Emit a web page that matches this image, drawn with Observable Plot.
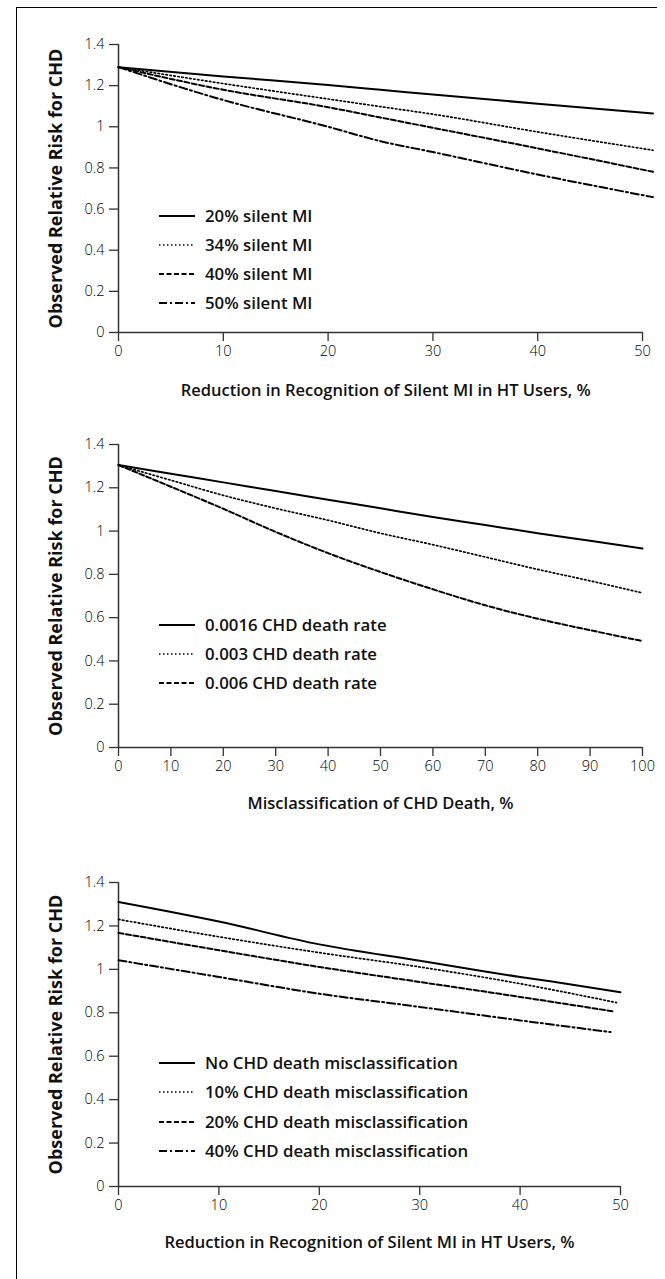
<!DOCTYPE html>
<html><head><meta charset="utf-8">
<script src="https://cdn.jsdelivr.net/npm/d3@7"></script>
<script src="https://cdn.jsdelivr.net/npm/@observablehq/plot@0.6"></script>
<style>
body{margin:0;background:#fff;}
#root{position:relative;width:665px;height:1279px;overflow:hidden;background:#fff;}
#frame{position:absolute;left:16px;top:7px;width:640px;height:1300px;border-left:1.5px solid #000;border-top:1.5px solid #000;}
.panel{position:absolute;left:0;}
</style></head><body><div id="root"><div id="frame"></div></div>
<script>
// ---- shared ticks ----
const yTicks = [0, 0.2, 0.4, 0.6, 0.8, 1, 1.2, 1.4];
const yTitle = "Observed Relative Risk for CHD";

// ---- Panel 1 ----
const p1Title = "Reduction in Recognition of Silent MI in HT Users, %";
const p1Ticks = [0, 10, 20, 30, 40, 50];
const p1X = [0, 10, 20, 25, 30, 40, 51];
const p1Names = ["20% silent MI", "34% silent MI", "40% silent MI", "50% silent MI"];
const p1S20 = [1.29, 1.245, 1.203, 1.18, 1.157, 1.112, 1.065];
const p1S34 = [1.29, 1.21, 1.135, 1.098, 1.061, 0.975, 0.886];
const p1S40 = [1.29, 1.18, 1.095, 1.045, 0.995, 0.895, 0.781];
const p1S50 = [1.29, 1.13, 1.0, 0.93, 0.877, 0.768, 0.658];

// ---- Panel 2 ----
const p2Title = "Misclassification of CHD Death, %";
const p2Ticks = [0, 10, 20, 30, 40, 50, 60, 70, 80, 90, 100];
const p2X = [0, 10, 20, 30, 40, 50, 60, 70, 80, 90, 100];
const p2Names = ["0.0016 CHD death rate", "0.003 CHD death rate", "0.006 CHD death rate"];
const p2R0016 = [1.305, 1.265, 1.225, 1.185, 1.145, 1.105, 1.065, 1.028, 0.99, 0.955, 0.92];
const p2R003 = [1.305, 1.235, 1.165, 1.105, 1.05, 0.99, 0.937, 0.88, 0.823, 0.77, 0.714];
const p2R006 = [1.305, 1.205, 1.103, 0.996, 0.898, 0.811, 0.731, 0.657, 0.595, 0.542, 0.492];

// ---- Panel 3 ----
const p3Title = "Reduction in Recognition of Silent MI in HT Users, %";
const p3Ticks = [0, 10, 20, 30, 40, 50];
const p3Names = ["No CHD death misclassification", "10% CHD death misclassification", "20% CHD death misclassification", "40% CHD death misclassification"];
const p3XNo = [0, 10, 20, 30, 40, 43, 50];
const p3No = [1.31, 1.22, 1.115, 1.04, 0.965, 0.945, 0.895];
const p3X10 = [0, 10, 20, 30, 40, 49.6];
const p3M10 = [1.23, 1.15, 1.077, 1.011, 0.934, 0.847];
const p3X20 = [0, 10, 20, 30, 40, 49.2];
const p3M20 = [1.168, 1.088, 1.011, 0.942, 0.873, 0.807];
const p3X40 = [0, 10, 20, 30, 40, 49];
const p3M40 = [1.042, 0.965, 0.888, 0.827, 0.765, 0.711];

// line styles (order: solid, dotted, dashed, dash-dot)
const dashes = [null, "1.5,2.5", "5,2.5", "8,3,2,3"];
const widths = [2, 1.7, 2, 2];

const FONT = "'Open Sans', 'Noto Sans', sans-serif";

function makePanel(cfg) {
  const series = cfg.names.map((name, i) => ({
    name, dash: dashes[cfg.styles[i]], width: widths[cfg.styles[i]],
    rows: cfg.xs[i].map((x, j) => ({x, y: cfg.ys[i][j]}))
  }));
  const marks = [
    Plot.ruleX([0], {y1: 0, y2: 1.4, stroke: "#333", strokeWidth: 1.5}),
    Plot.ruleY([0], {x1: 0, x2: cfg.axisMax, stroke: "#333", strokeWidth: 1.5}),
    Plot.axisY({ticks: yTicks, tickFormat: d => String(d), tickSize: 9, tickPadding: 5, label: null, stroke: "#333", strokeWidth: 1.3, fontSize: 14.5, fontWeight: 300, fill: "#000"}),
    Plot.axisX({ticks: cfg.ticks, tickFormat: d => String(d), tickSize: 9, tickPadding: 4, label: null, stroke: "#333", strokeWidth: 1.3, fontSize: 14.5, fontWeight: 300, fill: "#000"}),
    ...series.map(s => Plot.line(s.rows, {x: "x", y: "y", stroke: "#000", strokeWidth: s.width, strokeDasharray: s.dash, curve: "monotone-x"})),
    Plot.text([yTitle], {text: d => d, frameAnchor: "left", textAnchor: "middle", lineAnchor: "middle", dx: -62, rotate: -90, fontSize: 18, fontWeight: 700, fill: "#111"}),
    Plot.text([cfg.title], {text: d => d, frameAnchor: "bottom", textAnchor: "middle", lineAnchor: "middle", dy: cfg.titleDy, fontSize: 16.5, fontWeight: 600, fill: "#111"})
  ];
  const chart = Plot.plot({
    width: 665, height: cfg.height,
    marginLeft: 118, marginRight: cfg.marginRight, marginTop: cfg.marginTop, marginBottom: cfg.marginBottom,
    x: {domain: [0, cfg.xMax]},
    y: {domain: [0, 1.4]},
    style: {fontFamily: FONT, color: "#111", background: "transparent", overflow: "visible"},
    marks
  });
  const g = d3.select(chart).append("g").attr("font-family", FONT).attr("text-anchor", "start");
  series.forEach((s, i) => {
    const y = cfg.legendY[i];
    g.append("line").attr("x1", 159).attr("x2", 195).attr("y1", y).attr("y2", y)
      .attr("stroke", "#000").attr("stroke-width", s.width).attr("stroke-dasharray", s.dash);
    g.append("text").attr("x", 205).attr("y", y).attr("dy", "0.35em").attr("text-anchor", "start")
      .attr("font-size", 16.8).attr("font-weight", 600).attr("fill", "#111").text(s.name);
  });
  chart.classList.add("panel");
  chart.style.top = cfg.top + "px";
  chart.style.position = "absolute";
  document.getElementById("root").appendChild(chart);
}

makePanel({
  top: 0, height: 420, marginTop: 44, marginBottom: 88, marginRight: 12.5,
  xMax: 51, axisMax: 50, ticks: p1Ticks, title: p1Title, titleDy: 58,
  names: p1Names, styles: [0, 1, 2, 3],
  xs: [p1X, p1X, p1X, p1X], ys: [p1S20, p1S34, p1S40, p1S50],
  legendY: [216, 245, 274, 303]
});
makePanel({
  top: 420, height: 420, marginTop: 24, marginBottom: 93, marginRight: 23,
  xMax: 100, axisMax: 100, ticks: p2Ticks, title: p2Title, titleDy: 56,
  names: p2Names, styles: [0, 1, 2],
  xs: [p2X, p2X, p2X], ys: [p2R0016, p2R003, p2R006],
  legendY: [205, 234, 263]
});
makePanel({
  top: 840, height: 439, marginTop: 42, marginBottom: 93, marginRight: 45,
  xMax: 50, axisMax: 50, ticks: p3Ticks, title: p3Title, titleDy: 56,
  names: p3Names, styles: [0, 1, 2, 3],
  xs: [p3XNo, p3X10, p3X20, p3X40], ys: [p3No, p3M10, p3M20, p3M40],
  legendY: [223, 252, 282, 311]
});
</script>
</body></html>
